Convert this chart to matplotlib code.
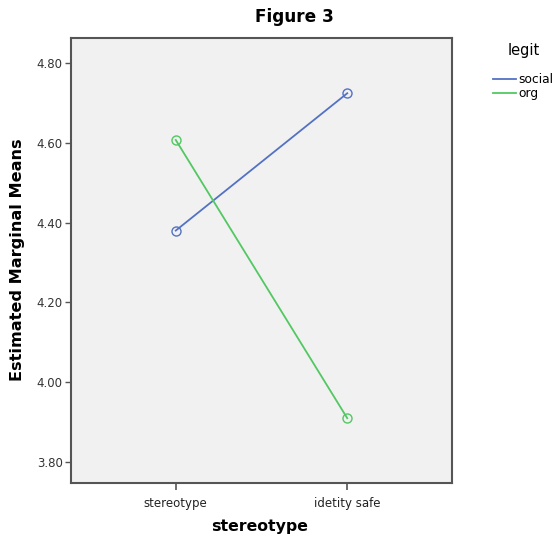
import matplotlib
matplotlib.use("Agg")
import matplotlib.pyplot as plt
from matplotlib.ticker import FormatStrFormatter

# Data
categories = ["stereotype", "idetity safe"]
series_names = ["social", "org"]
social_means = [4.38, 4.724]
org_means = [4.607, 3.91]
y_ticks = [3.80, 4.00, 4.20, 4.40, 4.60, 4.80]

colors = {"social": "#5472c4", "org": "#52c862"}

plt.rcParams['font.family'] = ['DejaVu Sans']

fig = plt.figure(figsize=(5.56, 5.39), dpi=100)
fig.patch.set_facecolor("white")
ax = fig.add_axes([71/556, 56/539, (452-71)/556, (483-38)/539])
ax.set_facecolor("#f1f1f1")

x = list(range(len(categories)))
handles = []
for name, vals in zip(series_names, [social_means, org_means]):
    h, = ax.plot(x, vals, color=colors[name], lw=1.3, marker="o", ms=6.5,
                 mfc="none", mec=colors[name], mew=1.0, label=name)
    handles.append(h)

ax.set_xlim(-0.611, 1.611)
ax.set_ylim(3.7475, 4.8625)
ax.set_xticks(x)
ax.set_xticklabels(categories, fontsize=8.5, color="#222222")
ax.set_yticks(y_ticks)
ax.yaxis.set_major_formatter(FormatStrFormatter("%.2f"))
ax.tick_params(axis="y", labelsize=8.5, labelcolor="#333333", length=4,
               width=1, color="#555555", pad=2)
ax.tick_params(axis="x", length=5, width=1.2, color="#555555", pad=5)

for sp in ax.spines.values():
    sp.set_color("#555555")
    sp.set_linewidth(1.5)

fig.text(294/556, 1 - 17/539, "Figure 3", ha="center", va="center",
         fontsize=12.2, fontweight="bold")
fig.text(260/556, 12/539, "stereotype", ha="center", va="center",
         fontsize=11.3, fontweight="bold")
fig.text(18/556, 1 - 260/539, "Estimated Marginal Means", ha="center",
         va="center", rotation=90, fontsize=11.6, fontweight="bold")

leg = fig.legend(handles=[plt.Line2D([], [], color=colors[n], lw=1.3) for n in series_names],
                 labels=series_names, title="legit", loc="upper left",
                 bbox_to_anchor=(493/556, 1 - 43/539), frameon=False,
                 fontsize=8.8, title_fontsize=10.5, handlelength=1.9,
                 handletextpad=0.2, labelspacing=0.1, borderaxespad=0,
                 borderpad=0)
leg._legend_box.sep = 11

fig.savefig("out.png", dpi=100)
